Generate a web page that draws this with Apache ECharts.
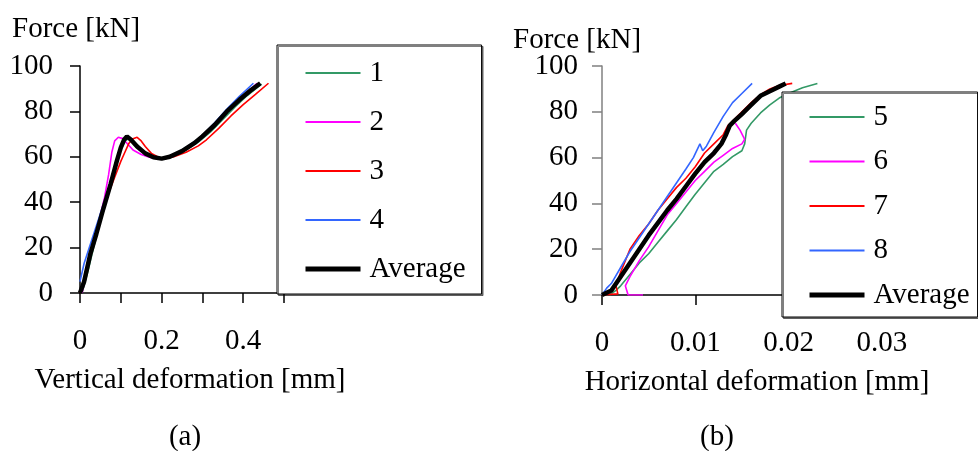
<!DOCTYPE html>
<html>
<head>
<meta charset="utf-8">
<script src="https://cdn.jsdelivr.net/npm/echarts@6/dist/echarts.min.js"></script>
<style>html,body{margin:0;padding:0;background:#fff;}#c{width:978px;height:451px;}</style>
</head>
<body>
<div id="c"></div>
<script>
// ---- Chart (a): vertical deformation [mm] vs force [kN]
const aNames = ['1', '2', '3', '4', 'Average'];
const a1X = [0.005,0.02,0.04,0.06,0.08,0.095,0.11,0.12,0.135,0.155,0.18,0.2,0.23,0.26,0.29,0.32,0.35,0.38,0.41,0.445];
const a1Y = [0,10,25,38,52,61,67,68,65,62,60,59.2,60.5,63,66.5,71,76.5,82,87,92];
const a2X = [0.005,0.02,0.04,0.06,0.07,0.078,0.085,0.094,0.105,0.115,0.13,0.15,0.17,0.195,0.22,0.25,0.28,0.31,0.34,0.37,0.4,0.434];
const a2Y = [0,12,27,42,52,62,67,68.6,68,66,63,61,59.8,59,60,62.5,66,70.5,76,81.5,87,92.4];
const a3X = [0,0.02,0.035,0.05,0.07,0.085,0.1,0.11,0.12,0.13,0.14,0.15,0.16,0.175,0.19,0.205,0.23,0.26,0.29,0.31,0.34,0.37,0.4,0.43,0.462];
const a3Y = [0,12,22,34,44,51,58,62,66,68,68.6,67,64.5,61.5,60,59,60,62,64.8,67.5,72.5,78,83,87.5,92.4];
const a4X = [0,0.01,0.03,0.05,0.07,0.085,0.095,0.105,0.115,0.125,0.14,0.16,0.18,0.2,0.22,0.25,0.28,0.3,0.33,0.36,0.39,0.425];
const a4Y = [5,13,24,35,46,56,62,66.5,68.5,67,64,61,59.5,59.2,60.2,63,66.5,69.5,75,81,86.5,92.4];
const aAvgX = [0,0.01,0.025,0.04,0.057,0.075,0.09,0.1,0.108,0.115,0.125,0.14,0.16,0.18,0.2,0.22,0.25,0.28,0.3,0.33,0.36,0.39,0.42,0.442];
const aAvgY = [0,5,17,26,37,48,58,64,67.5,69,67.5,64.5,61.5,59.8,59.2,60,62.5,66,69,74,80,85,89.5,92.4];

// ---- Chart (b): horizontal deformation [mm] vs force [kN]
const bNames = ['5', '6', '7', '8', 'Average'];
const b5X = [0.0008,0.0015,0.002,0.003,0.004,0.005,0.006,0.007,0.008,0.009,0.01,0.011,0.012,0.013,0.014,0.015,0.0153,0.0155,0.016,0.017,0.018,0.019,0.02,0.0215,0.0231];
const b5Y = [0,2,4,9,14,18,23,28,33,38.5,44,49,54,57,60.4,63,66,72,75,79.5,83,86,88,90.5,92.4];
const b6X = [0.0044,0.0028,0.0025,0.003,0.004,0.005,0.006,0.007,0.008,0.009,0.01,0.011,0.012,0.013,0.014,0.015,0.0153,0.0148,0.0143];
const b6Y = [0,0,4,8,15,21,28,35,40,45,50,54,58,61,64,66,68,72,75];
const b7X = [0,0.0017,0.0015,0.002,0.003,0.004,0.005,0.006,0.007,0.008,0.009,0.01,0.011,0.012,0.013,0.0135,0.014,0.015,0.016,0.017,0.018,0.019,0.0204];
const b7Y = [0,0.5,4,10,20,26,31,37,42,47,51,56,62,66,70,74,76,80,84,87.5,90,91.5,92.4];
const b8X = [0,0.0005,0.001,0.002,0.003,0.004,0.005,0.006,0.007,0.008,0.009,0.0098,0.0105,0.0108,0.0112,0.012,0.013,0.014,0.015,0.0161];
const b8Y = [0,3,5,12,19,25,31,37,43,49,55,60,66,63,65,71,78,84,88,92.4];
const bAvgX = [0,0.001,0.002,0.003,0.004,0.005,0.006,0.007,0.008,0.009,0.01,0.011,0.012,0.0128,0.0133,0.0137,0.0142,0.015,0.016,0.017,0.018,0.019,0.0197];
const bAvgY = [0,2,8,14,20,26,31.5,37,42,47.5,53,58,62,66,70,74,76,79,83,87,89,91,92.4];

const yTicks = [0, 20, 40, 60, 80, 100];
const aXTicks = [0, 0.2, 0.4];
const bXTicks = [0, 0.01, 0.02, 0.03];

const colors = ['#339966', '#ff00ff', '#ff0000', '#3366ff', '#000000'];
const FONT = "'Liberation Serif', 'Times New Roman', serif";
const FS = 29;

function pairs(xs, ys) { return xs.map((x, i) => [x, ys[i]]); }
function tickFmt(list) {
  return function (v) {
    for (const t of list) if (Math.abs(v - t) < 1e-9) return String(t);
    return '';
  };
}

const aData = [pairs(a1X, a1Y), pairs(a2X, a2Y), pairs(a3X, a3Y), pairs(a4X, a4Y), pairs(aAvgX, aAvgY)];
const bData = [pairs(b5X, b5Y), pairs(b6X, b6Y), pairs(b7X, b7Y), pairs(b8X, b8Y), pairs(bAvgX, bAvgY)];

const widthOf = i => (i === 4 ? 4.5 : 1.6);
const series = [];
aNames.forEach((n, i) => series.push({
  name: n, type: 'line', xAxisIndex: 0, yAxisIndex: 0, symbol: 'none', data: aData[i],
  lineStyle: { color: colors[i], width: widthOf(i) }, itemStyle: { color: colors[i] },
  z: i === 4 ? 3 : 2
}));
bNames.forEach((n, i) => series.push({
  name: n, type: 'line', xAxisIndex: 1, yAxisIndex: 1, symbol: 'none', data: bData[i],
  lineStyle: { color: colors[i], width: widthOf(i) }, itemStyle: { color: colors[i] },
  z: i === 4 ? 3 : 2
}));

const labelStyle = { fontFamily: FONT, fontSize: FS, color: '#000' };

function xAxis(gi, max, interval, ticks) {
  return {
    type: 'value', gridIndex: gi, min: 0, max: max, interval: interval,
    axisLine: { show: true, onZero: false, lineStyle: { color: '#000', width: 1.5 } },
    axisTick: { show: true, inside: false, length: 10, lineStyle: { color: '#000', width: 1.5 } },
    axisLabel: Object.assign({ margin: 34, formatter: tickFmt(ticks) }, labelStyle),
    splitLine: { show: false }
  };
}
function yAxis(gi, margin, lineColor) {
  return {
    type: 'value', gridIndex: gi, min: 0, max: 100, interval: 20,
    axisLine: { show: true, onZero: false, lineStyle: { color: lineColor, width: 1.5 } },
    axisTick: { show: true, inside: false, length: 10, lineStyle: { color: lineColor, width: 1.5 } },
    axisLabel: Object.assign({ margin: margin, formatter: tickFmt(yTicks) }, labelStyle),
    splitLine: { show: false }
  };
}

function legend(names, left, top, padding, gap) {
  return {
    orient: 'vertical', left: left, top: top,
    data: names.map((n, i) => ({ name: n, lineStyle: { color: colors[i], width: i === 4 ? 5 : 2 } })),
    padding: padding, itemGap: gap, itemWidth: 55, itemHeight: 14,
    backgroundColor: '#fff', borderColor: '#000', borderWidth: 1, borderRadius: 0,
    shadowColor: 'rgba(0,0,0,0.5)', shadowOffsetX: 1.5, shadowOffsetY: 1.5, shadowBlur: 0,
    selectedMode: false,
    itemStyle: { color: 'rgba(0,0,0,0)', borderWidth: 0, opacity: 0 },
    textStyle: { fontFamily: FONT, fontSize: FS, color: '#000', lineHeight: 30, padding: [0, 0, 0, 4] },
    z: 10
  };
}

function txt(s, x, y, align) {
  return { type: 'text', z: 20, style: { text: s, x: x, y: y, font: FS + 'px ' + FONT, fill: '#000', textAlign: align || 'center', textVerticalAlign: 'middle' } };
}

const chart = echarts.init(document.getElementById('c'), null, { renderer: 'canvas' });
chart.setOption({
  animation: false,
  backgroundColor: '#fff',
  grid: [
    { left: 80, top: 66, width: 204, height: 227 },
    { left: 602, top: 66, width: 375, height: 229 }
  ],
  xAxis: [xAxis(0, 0.5, 0.1, aXTicks), xAxis(1, 0.04, 0.01, bXTicks)],
  yAxis: [yAxis(0, 27, '#000'), yAxis(1, 24, '#808080')],
  legend: [
    legend(aNames, 277, 45, [13, 16, 10, 26], 19),
    legend(bNames, 782, 92, [10, 8, 7, 25], 14.5)
  ],
  series: series,
  graphic: [
    txt('Force [kN]', 12, 29, 'left'),
    txt('Force [kN]', 513, 40, 'left'),
    txt('Vertical deformation [mm]', 190, 380),
    txt('Horizontal deformation [mm]', 757, 382),
    txt('(a)', 185, 437),
    txt('(b)', 717, 437)
  ]
});
</script>
</body>
</html>
